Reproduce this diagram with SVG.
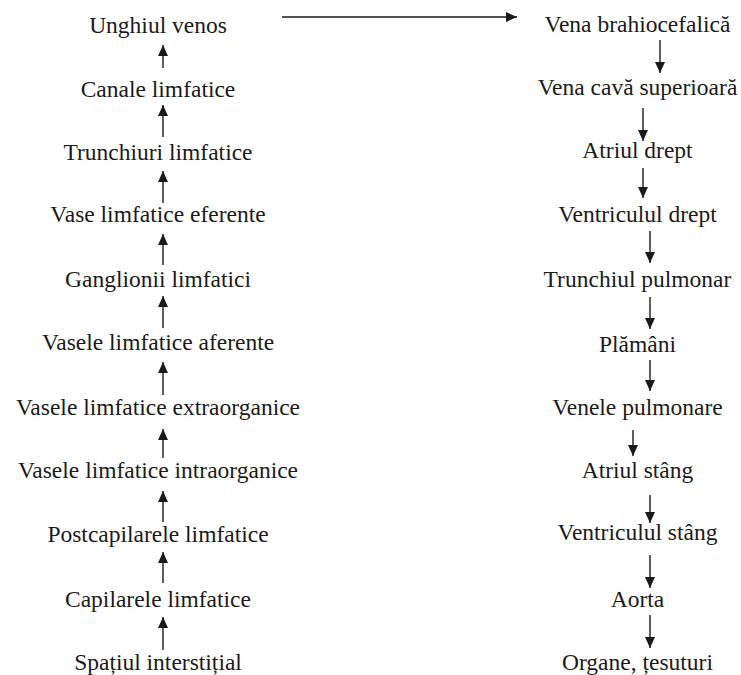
<svg xmlns="http://www.w3.org/2000/svg" width="741" height="675" viewBox="0 0 741 675">
<defs>
<marker id="ah" markerUnits="userSpaceOnUse" markerWidth="12" markerHeight="10" refX="11" refY="5" orient="auto">
<path d="M0,0 L11,5 L0,10 Z" fill="#1a1a1a"/>
</marker>
</defs>
<style>
.t{font-family:Liberation Serif,Times New Roman,Times,serif;font-size:23.5px;fill:#1a1a1a;text-anchor:middle}
.c line{stroke:#1a1a1a;stroke-width:1.4;marker-end:url(#ah)}
</style>
<rect width="741" height="675" fill="#fff"/>
<g id="left">
<g id="n-unghiul"><text class="t" font-family="Liberation Serif" x="158" y="33">Unghiul venos</text></g>
<g id="n-canale"><text class="t" font-family="Liberation Serif" x="158" y="97">Canale limfatice</text></g>
<g id="n-trunchiuri"><text class="t" font-family="Liberation Serif" x="158" y="160">Trunchiuri limfatice</text></g>
<g id="n-eferente"><text class="t" font-family="Liberation Serif" x="158" y="222">Vase limfatice eferente</text></g>
<g id="n-ganglionii"><text class="t" font-family="Liberation Serif" x="158" y="287">Ganglionii limfatici</text></g>
<g id="n-aferente"><text class="t" font-family="Liberation Serif" x="158" y="350">Vasele limfatice aferente</text></g>
<g id="n-extra"><text class="t" font-family="Liberation Serif" x="158" y="415">Vasele limfatice extraorganice</text></g>
<g id="n-intra"><text class="t" font-family="Liberation Serif" x="158" y="478">Vasele limfatice intraorganice</text></g>
<g id="n-postcap"><text class="t" font-family="Liberation Serif" x="158" y="542">Postcapilarele limfatice</text></g>
<g id="n-capilare"><text class="t" font-family="Liberation Serif" x="158" y="607">Capilarele limfatice</text></g>
<g id="n-spatiul"><text class="t" font-family="Liberation Serif" x="158" y="670">Spațiul interstițial</text></g>
</g>
<g id="right">
<g id="n-brahio"><text class="t" font-family="Liberation Serif" x="637.5" y="32">Vena brahiocefalică</text></g>
<g id="n-cava"><text class="t" font-family="Liberation Serif" x="637.5" y="95">Vena cavă superioară</text></g>
<g id="n-atriu-d"><text class="t" font-family="Liberation Serif" x="637.5" y="158">Atriul drept</text></g>
<g id="n-ventr-d"><text class="t" font-family="Liberation Serif" x="637.5" y="222">Ventriculul drept</text></g>
<g id="n-trunchiul"><text class="t" font-family="Liberation Serif" x="637.5" y="287">Trunchiul pulmonar</text></g>
<g id="n-plamani"><text class="t" font-family="Liberation Serif" x="637.5" y="352">Plămâni</text></g>
<g id="n-venele"><text class="t" font-family="Liberation Serif" x="637.5" y="415">Venele pulmonare</text></g>
<g id="n-atriu-s"><text class="t" font-family="Liberation Serif" x="637.5" y="478">Atriul stâng</text></g>
<g id="n-ventr-s"><text class="t" font-family="Liberation Serif" x="637.5" y="540">Ventriculul stâng</text></g>
<g id="n-aorta"><text class="t" font-family="Liberation Serif" x="637.5" y="607">Aorta</text></g>
<g id="n-organe"><text class="t" font-family="Liberation Serif" x="637.5" y="670">Organe, țesuturi</text></g>
</g>
<g id="connectors" class="c">
<line x1="282" y1="17" x2="517" y2="17"/>
<line x1="163" y1="68" x2="163" y2="45"/>
<line x1="163" y1="137" x2="163" y2="105"/>
<line x1="163" y1="203" x2="163" y2="171"/>
<line x1="163" y1="265" x2="163" y2="234"/>
<line x1="163" y1="328" x2="163" y2="296"/>
<line x1="163" y1="395" x2="163" y2="362"/>
<line x1="163" y1="458" x2="163" y2="429"/>
<line x1="163" y1="522" x2="163" y2="491"/>
<line x1="163" y1="583" x2="163" y2="552"/>
<line x1="163" y1="650" x2="163" y2="617"/>
<line x1="660" y1="40" x2="660" y2="73"/>
<line x1="643" y1="108" x2="643" y2="141"/>
<line x1="643" y1="168" x2="643" y2="198"/>
<line x1="650" y1="231" x2="650" y2="263"/>
<line x1="650" y1="297" x2="650" y2="329"/>
<line x1="650" y1="360" x2="650" y2="391"/>
<line x1="633" y1="430" x2="633" y2="456"/>
<line x1="650" y1="495" x2="650" y2="523"/>
<line x1="650" y1="555" x2="650" y2="588"/>
<line x1="650" y1="615" x2="650" y2="648"/>
</g>
</svg>
